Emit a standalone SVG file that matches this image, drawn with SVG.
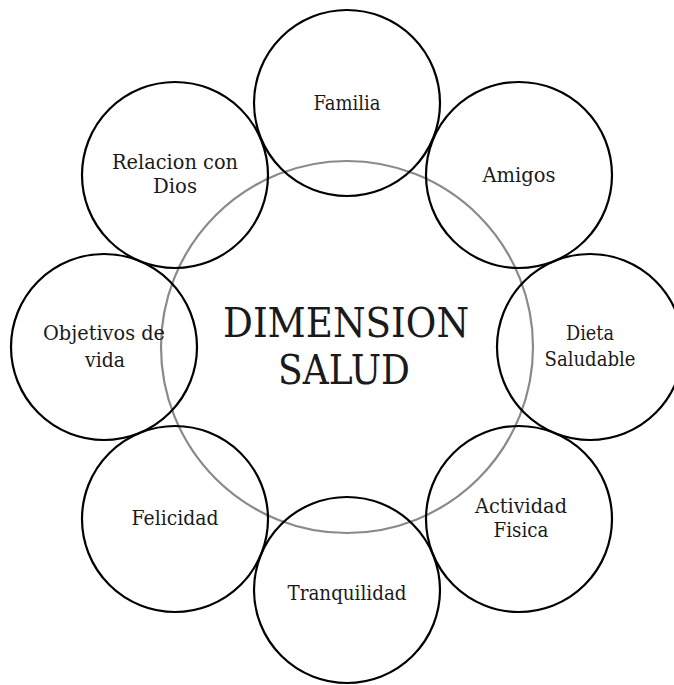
<svg xmlns="http://www.w3.org/2000/svg" width="674" height="685" viewBox="0 0 674 685">
<style>
.o{fill:none;stroke:#000;stroke-width:2.2}
.c{fill:none;stroke:#8a8a8a;stroke-width:2.2}
text{font-family:'DejaVu Serif',serif;fill:#1a1a1a;text-anchor:middle}
.l{font-size:20px}
.t{font-size:41px}
</style>
<rect width="674" height="685" fill="#fff"/>
<g id="center">
<circle class="c" cx="347" cy="347" r="186"/>
<text class="t" x="346" y="337" textLength="246" lengthAdjust="spacingAndGlyphs">DIMENSION</text>
<text class="t" x="344" y="384" textLength="132" lengthAdjust="spacingAndGlyphs">SALUD</text>
</g>
<g id="familia"><circle class="o" cx="347" cy="103" r="93"/><text class="l" x="347" y="110" textLength="67" lengthAdjust="spacingAndGlyphs">Familia</text></g>
<g id="amigos"><circle class="o" cx="519" cy="175" r="93"/><text class="l" x="519" y="182" textLength="73" lengthAdjust="spacingAndGlyphs">Amigos</text></g>
<g id="dieta"><circle class="o" cx="590" cy="347" r="93"/><text class="l" x="590" y="340" textLength="48" lengthAdjust="spacingAndGlyphs">Dieta</text><text class="l" x="590" y="366" textLength="91" lengthAdjust="spacingAndGlyphs">Saludable</text></g>
<g id="actividad"><circle class="o" cx="519" cy="519" r="93"/><text class="l" x="521" y="513" textLength="92" lengthAdjust="spacingAndGlyphs">Actividad</text><text class="l" x="521" y="537" textLength="55" lengthAdjust="spacingAndGlyphs">Fisica</text></g>
<g id="tranquilidad"><circle class="o" cx="347" cy="590" r="93"/><text class="l" x="347" y="600" textLength="119" lengthAdjust="spacingAndGlyphs">Tranquilidad</text></g>
<g id="felicidad"><circle class="o" cx="175" cy="519" r="93"/><text class="l" x="175" y="525" textLength="87" lengthAdjust="spacingAndGlyphs">Felicidad</text></g>
<g id="objetivos"><circle class="o" cx="104" cy="347" r="93"/><text class="l" x="104" y="340" textLength="122" lengthAdjust="spacingAndGlyphs">Objetivos de</text><text class="l" x="105" y="367" textLength="40" lengthAdjust="spacingAndGlyphs">vida</text></g>
<g id="relacion"><circle class="o" cx="175" cy="175" r="93"/><text class="l" x="175" y="169" textLength="126" lengthAdjust="spacingAndGlyphs">Relacion con</text><text class="l" x="175" y="193" textLength="44" lengthAdjust="spacingAndGlyphs">Dios</text></g>
<g id="connectors"></g>
</svg>
